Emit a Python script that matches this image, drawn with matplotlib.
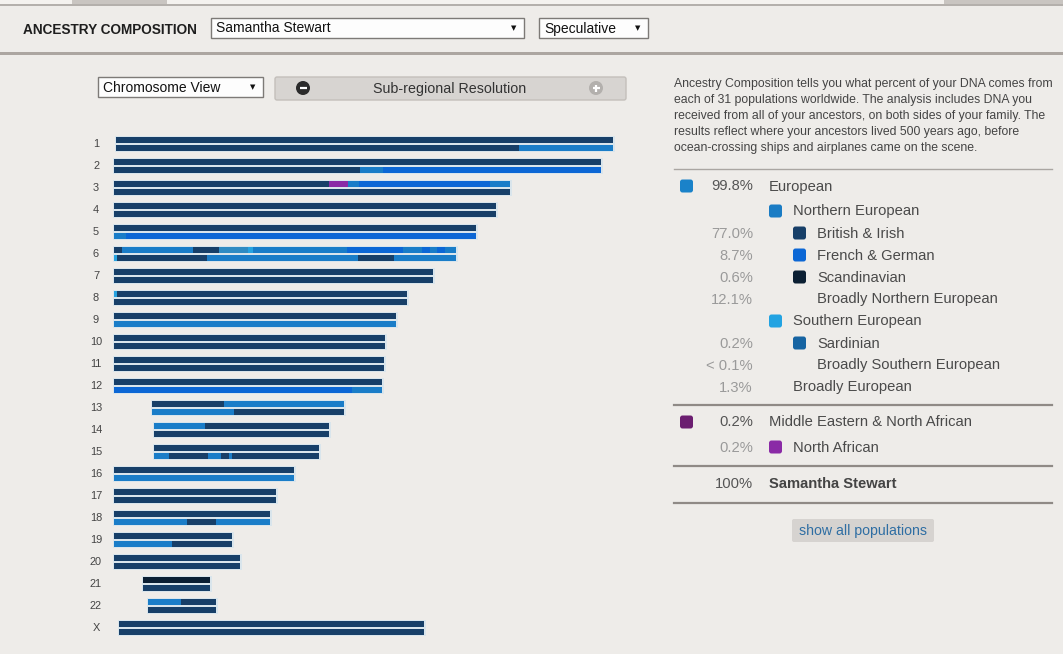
import matplotlib
matplotlib.use('Agg')
import matplotlib.pyplot as plt
from matplotlib.patches import FancyBboxPatch, Rectangle, Circle

W, H = 1063, 654
BG = '#eeece9'

# ---------------- data ----------------
chrom_labels = ['1', '2', '3', '4', '5', '6', '7', '8', '9', '10', '11', '12',
                '13', '14', '15', '16', '17', '18', '19', '20', '21', '22', 'X']
chrom_start = [116, 114, 114, 114, 114, 114, 114, 114, 114, 114, 114, 114,
               152, 154, 154, 114, 114, 114, 114, 114, 143, 148, 119]
chrom_end = [613, 601, 510, 496, 476, 456, 433, 407, 396, 385, 384, 382,
             344, 329, 319, 294, 276, 270, 232, 240, 210, 216, 424]

# each haplotype: list of (segment end, population code)
hap_top = [
    [(613, 'B')],
    [(601, 'B')],
    [(329, 'B'), (348, 'P'), (359, 'N'), (490, 'F'), (510, 'N')],
    [(496, 'B')],
    [(476, 'B')],
    [(122, 'B'), (193, 'N'), (219, 'B'), (248, 'G'), (253, 'L'), (347, 'N'),
     (403, 'F'), (422, 'N'), (430, 'F'), (437, 'N'), (445, 'F'), (456, 'N')],
    [(433, 'B')],
    [(117, 'L'), (407, 'B')],
    [(396, 'B')],
    [(385, 'B')],
    [(384, 'B')],
    [(382, 'B')],
    [(224, 'B'), (344, 'N')],
    [(205, 'N'), (329, 'B')],
    [(319, 'B')],
    [(294, 'B')],
    [(276, 'B')],
    [(270, 'B')],
    [(232, 'B')],
    [(240, 'B')],
    [(210, 'S')],
    [(181, 'N'), (216, 'B')],
    [(424, 'B')],
]
hap_bottom = [
    [(519, 'B'), (613, 'N')],
    [(360, 'B'), (383, 'N'), (601, 'F')],
    [(510, 'B')],
    [(496, 'B')],
    [(126, 'N'), (476, 'F')],
    [(117, 'L'), (207, 'B'), (358, 'N'), (394, 'B'), (456, 'N')],
    [(433, 'B')],
    [(407, 'B')],
    [(317, 'N'), (396, 'N')],
    [(385, 'B')],
    [(384, 'B')],
    [(352, 'F'), (382, 'N')],
    [(234, 'N'), (344, 'B')],
    [(329, 'B')],
    [(169, 'N'), (208, 'B'), (221, 'N'), (229, 'B'), (232, 'N'), (319, 'B')],
    [(294, 'N')],
    [(276, 'B')],
    [(187, 'N'), (216, 'B'), (270, 'N')],
    [(172, 'N'), (232, 'B')],
    [(240, 'B')],
    [(210, 'B')],
    [(216, 'B')],
    [(424, 'B')],
]

legend_labels = ['European', 'Northern European', 'British & Irish', 'French & German',
                 'Scandinavian', 'Broadly Northern European', 'Southern European',
                 'Sardinian', 'Broadly Southern European', 'Broadly European',
                 'Middle Eastern & North African', 'North African']
legend_pcts = ['99.8%', '', '77.0%', '8.7%', '0.6%', '12.1%', '', '0.2%', '< 0.1%',
               '1.3%', '0.2%', '0.2%']
legend_levels = [0, 1, 2, 2, 2, 2, 1, 2, 2, 1, 0, 1]
legend_has_swatch = [True, True, True, True, True, False, True, True, False, False, True, True]

intro_lines = [
    'Ancestry Composition tells you what percent of your DNA comes from',
    'each of 31 populations worldwide. The analysis includes DNA you',
    'received from all of your ancestors, on both sides of your family. The',
    'results reflect where your ancestors lived 500 years ago, before',
    'ocean-crossing ships and airplanes came on the scene.',
]

# ---------------- styles ----------------
pop_colors = {'B': '#173f68', 'F': '#0c67d5', 'S': '#0b1f33', 'N': '#1a7dc8',
              'G': '#2f8bc3', 'L': '#27a3e0', 'P': '#8a2aa6'}
legend_colors = ['#1a82c9', '#1a7cc4', '#173f68', '#0c67d5', '#0b1f33', None,
                 '#22a3e2', '#1664a2', None, None, '#6b1e70', '#8a2aa6']

SANS = ['Liberation Sans', 'DejaVu Sans']

fig = plt.figure(figsize=(W / 100, H / 100), dpi=100, facecolor=BG)

# ---------- UI overlay axes in pixel space ----------
ui = fig.add_axes([0, 0, 1, 1])
ui.set_xlim(0, W)
ui.set_ylim(H, 0)
ui.axis('off')
ui.set_facecolor(BG)

# top strip
ui.add_patch(Rectangle((0, 0), W, 4, color='#f4f2ef', lw=0))
ui.add_patch(Rectangle((72, 0), 95, 4, color='#c9c5c1', lw=0))
ui.add_patch(Rectangle((944, 0), 119, 4, color='#c9c5c1', lw=0))
ui.plot([0, W], [4.5, 4.5], color='#a9a4a0', lw=1.2)
# header separator
ui.add_patch(Rectangle((0, 51.5), W, 3.5, color='#aca6a1', lw=0))

# header title: bold, fitted to its width in the reference
title = ui.text(23, 30.5, 'ANCESTRY COMPOSITION', family=SANS, weight='bold',
                fontsize=11.5, color='#1e1e1e', va='center', ha='left')
renderer = fig.canvas.get_renderer()
tw = title.get_window_extent(renderer).width
if tw > 176:
    title.set_fontsize(11.5 * 175 / tw)


def dropdown(x0, x1, y0, y1, label, fs=10):
    ui.add_patch(Rectangle((x0, y0), x1 - x0, y1 - y0, facecolor='#fdfdfd',
                           edgecolor='#7d7a77', lw=1))
    ui.text(x0 + 5, (y0 + y1) / 2 + 0.5, label, family=SANS, fontsize=fs,
            color='#111111', va='center', ha='left')
    ui.text(x1 - 10, (y0 + y1) / 2 + 0.5, '▼', family=['DejaVu Sans'], fontsize=5,
            color='#111111', va='center', ha='center')


dropdown(211, 524, 18, 38, 'Samantha Stewart')
dropdown(539, 648, 18, 38, 'Speculative')
dropdown(98, 263, 77, 97, 'Chromosome View')

# sub-regional resolution button
ui.add_patch(FancyBboxPatch((275, 77), 351, 23, boxstyle='round,pad=0,rounding_size=2',
                            facecolor='#d7d4d1', edgecolor='#c3bfbb', lw=1))
ui.text(450, 88.5, 'Sub-regional Resolution', family=SANS, fontsize=10.3,
        color='#333333', va='center', ha='center')
ui.add_patch(Circle((303, 88), 7, color='#2b2b2b', lw=0))
ui.plot([299.5, 306.5], [88, 88], color='white', lw=1.6, solid_capstyle='butt')
ui.add_patch(Circle((596, 88), 7, color='#b3b0ad', lw=0))
ui.plot([592.5, 599.5], [88, 88], color='white', lw=1.6, solid_capstyle='butt')
ui.plot([596, 596], [84.5, 91.5], color='white', lw=1.6, solid_capstyle='butt')

# intro paragraph
for i, line in enumerate(intro_lines):
    ui.text(674, 84 + 16 * i, line, family=SANS, fontsize=8.8, color='#444444',
            va='center', ha='left')

# legend
ui.plot([674, 1052], [168.5, 168.5], color='#aaa6a2', lw=1)
row_y = [186, 211, 233, 255, 277, 299, 321, 343, 365, 387, 422, 447]
swatch_x = {0: 680, 1: 769, 2: 793}
label_x = {0: 769, 1: 793, 2: 817}
for lab, pct, lev, has_sw, col, y in zip(legend_labels, legend_pcts, legend_levels,
                                         legend_has_swatch, legend_colors, row_y):
    if has_sw:
        ui.add_patch(FancyBboxPatch((swatch_x[lev], y - 6.5), 13, 13,
                                    boxstyle='round,pad=0,rounding_size=2.5',
                                    facecolor=col, edgecolor='none'))
    if pct:
        ui.text(753, y + 0.5, pct, family=SANS, fontsize=10.6,
                color='#555555' if lev == 0 else '#9a9a9a', va='center', ha='right')
    ui.text(label_x[lev], y + 0.5, lab, family=SANS, fontsize=10.6, color='#4a4a4a',
            va='center', ha='left')

ui.plot([674, 1052], [404.5, 404.5], color='#8f8a86', lw=1.6)
ui.plot([674, 1052], [465.5, 465.5], color='#8f8a86', lw=1.6)
ui.plot([674, 1052], [503, 503], color='#8f8a86', lw=1.6)
ui.text(753, 483.5, '100%', family=SANS, fontsize=10.6, color='#555555',
        va='center', ha='right')
ui.text(769, 483.5, 'Samantha Stewart', family=SANS, fontsize=10.6, weight='bold',
        color='#444444', va='center', ha='left')

ui.add_patch(FancyBboxPatch((792, 519), 142, 23, boxstyle='round,pad=0,rounding_size=2',
                            facecolor='#d6d3d0', edgecolor='none'))
ui.text(863, 531, 'show all populations', family=SANS, fontsize=10.2,
        color='#2f6ea3', va='center', ha='center')

# ---------- chromosome painting axes ----------
row_step = 22.0
top_px, first_center = 133.0, 144.0
n = len(chrom_labels)
bottom_px = first_center + (n - 0.5) * row_step
ax = fig.add_axes([80 / W, 1 - bottom_px / H, 560 / W, (bottom_px - top_px) / H])
ax.set_xlim(80, 640)
ax.set_ylim(n - 0.5, -0.5)
ax.axis('off')
ax.patch.set_alpha(0)

bar_h = 6.0 / row_step
off = 4.0 / row_step
halo_h = 16.5 / row_step

for i, lab in enumerate(chrom_labels):
    s, e = chrom_start[i], chrom_end[i]
    ax.barh(i, e - s + 3, left=s - 1.5, height=halo_h, color='#d9e5ec', lw=0, zorder=1)
    for segs, dy in ((hap_top[i], -off), (hap_bottom[i], off)):
        left = s
        for end, pop in segs:
            ax.barh(i + dy, end - left, left=left, height=bar_h,
                    color=pop_colors[pop], lw=0, zorder=2)
            left = end
    ax.text(96, i, lab, family=SANS, fontsize=7.9, color='#444444',
            va='center', ha='center')

fig.savefig('out.png', dpi=100, facecolor=BG)
